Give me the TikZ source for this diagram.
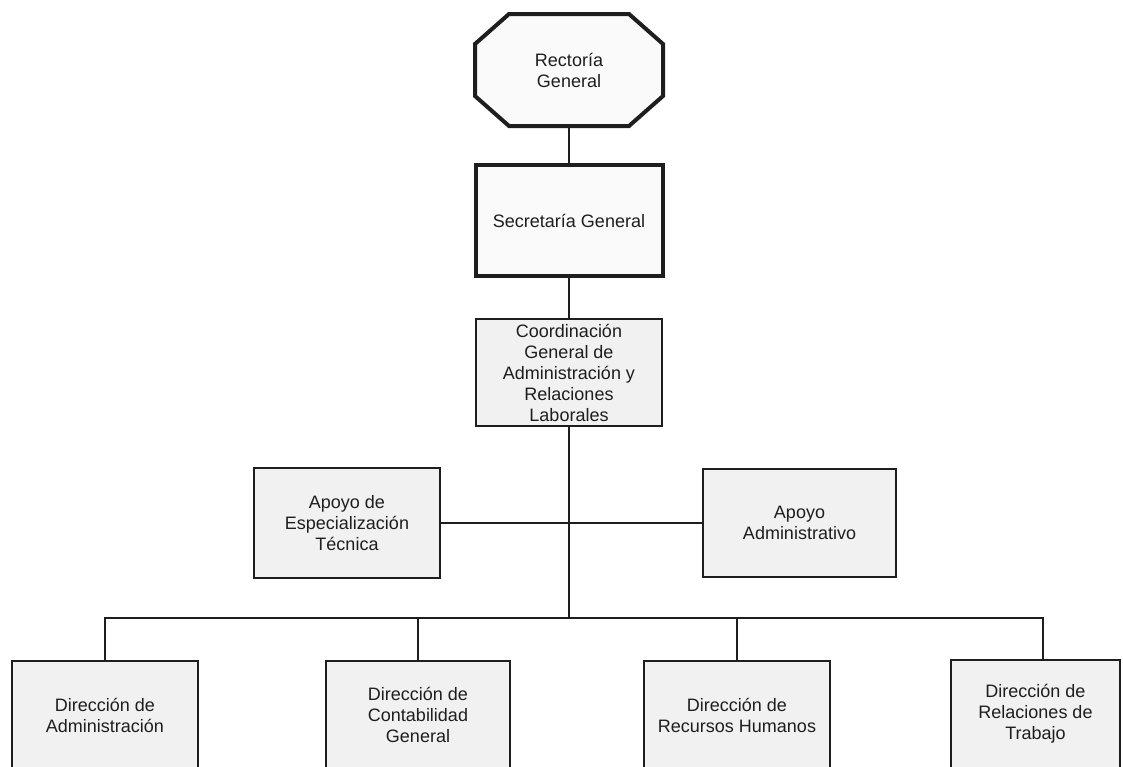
\documentclass[tikz,border=0pt]{standalone}
\usepackage{fontspec}
\setmainfont{Liberation Sans}
\usetikzlibrary{calc}
\definecolor{ink}{HTML}{1E1E1E}
\definecolor{boxfill}{HTML}{F1F1F1}

\begin{document}
\begin{tikzpicture}[x=1pt,y=-1pt,
  every node/.style={font=\fontsize{18}{21}\selectfont, text=ink, align=center, inner sep=0pt},
  unit/.style={draw=ink, fill=boxfill, line width=2.5pt},
  heavy/.style={draw=ink, fill=white!98!black, line width=4pt},
  link/.style={draw=ink, line width=1.3pt}]
\clip (0,0) rectangle (1123,766);
\fill[white] (0,0) rectangle (1123,766);

% Rectoria (octagon)
\coordinate (rc) at (569,70);
\draw[heavy] ($(rc)+(-60,-56)$) -- ($(rc)+(60,-56)$) -- ($(rc)+(94,-26)$) -- ($(rc)+(94,26)$)
  -- ($(rc)+(60,56)$) -- ($(rc)+(-60,56)$) -- ($(rc)+(-94,26)$) -- ($(rc)+(-94,-26)$) -- cycle;
\node[minimum width=188pt, minimum height=112pt] (rector) at (rc) {Rectoría\\General};

% Upper chain
\node[heavy, minimum width=187pt, minimum height=111pt] (secre) at (569,220.5) {Secretaría General};
\node[unit, line width=2pt, minimum width=186pt, minimum height=107pt] (coord) at (569,372.5)
  {Coordinación\\General de\\Administración y\\Relaciones\\Laborales};

% Staff units
\node[unit, minimum width=186pt, minimum height=110pt] (esp) at (347,523) {Apoyo de\\Especialización\\Técnica};
\node[unit, minimum width=193pt, minimum height=108pt] (adm) at (799.5,523) {Apoyo\\Administrativo};

% Directions
\node[unit, minimum width=186pt, minimum height=108pt] (dir1) at (105,715) {Dirección de\\Administración};
\node[unit, minimum width=184pt, minimum height=108pt] (dir2) at (418,715) {Dirección de\\Contabilidad\\General};
\node[unit, minimum width=186pt, minimum height=108pt] (dir3) at (737,715) {Dirección de\\Recursos Humanos};
\node[unit, minimum width=169pt, minimum height=108pt] (dir4) at (1035.5,714) {Dirección de\\Relaciones de\\Trabajo};

% Links
\coordinate (bus) at (569,618);
\draw[link] (rector.south) -- (secre.north);
\draw[link] (secre.south) -- (coord.north);
\draw[link] (coord.south) -- (bus);
\draw[link] (esp.east) -- (adm.west);
\draw[link] (bus) -| (dir1.north);
\draw[link] (bus) -| (dir2.north);
\draw[link] (bus) -| (dir3.north);
\draw[link] (bus) -| ([xshift=7.5pt]dir4.north);
\end{tikzpicture}
\end{document}
